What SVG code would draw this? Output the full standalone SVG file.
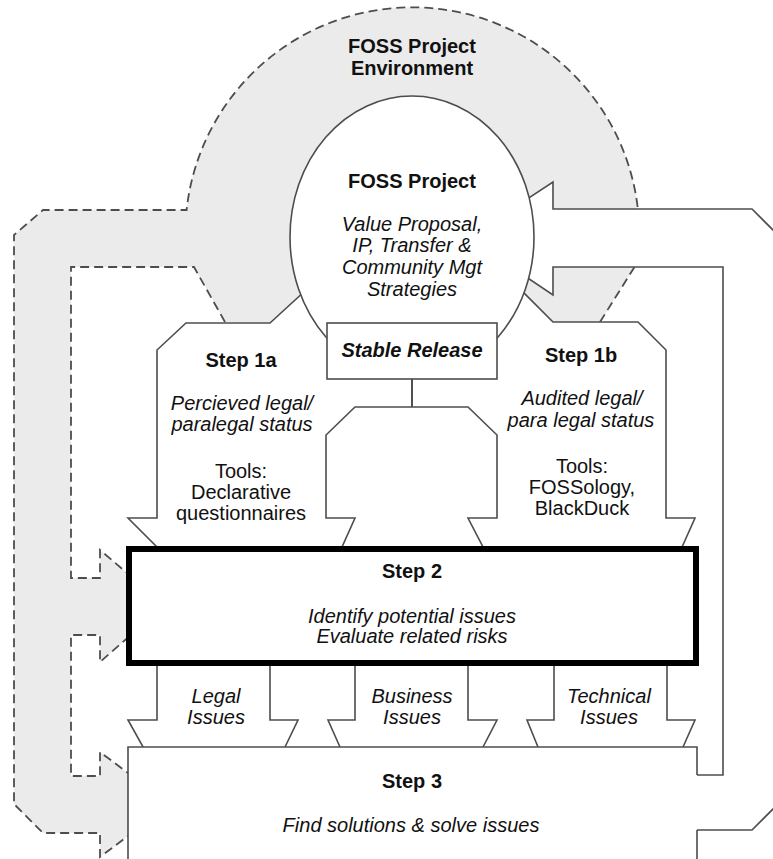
<svg xmlns="http://www.w3.org/2000/svg" width="773" height="859" viewBox="0 0 773 859">
<style>
text{font-family:"Liberation Sans",Arial,Helvetica,sans-serif;fill:#111;text-anchor:middle;font-size:20px}
.b{font-weight:bold}
.i{font-style:italic}
.bi{font-weight:bold;font-style:italic}
.shape{fill:#fff;stroke:#4d4d4d;stroke-width:1.6;stroke-linejoin:miter}
.dash{fill:none;stroke:#4d4d4d;stroke-width:1.8;stroke-dasharray:9 5}
</style>
<rect width="773" height="859" fill="#fff"/>

<g id="environment">
<path d="M186.6,210 A227,227 0 1 1 637.6,262 L600,322 L225,322 L194,267 L71,267 L71,578 L100,578 L100,550 L140,584 L140,627 L100,662 L100,635 L71,635 L71,776 L100,776 L100,752 L140,782 L140,827 L100,857 L100,833 L43,833 L14,804 L14,235 L43,210 Z" fill="#ebebeb"/>
<path class="dash" d="M600,322 L637.6,262 A227,227 0 1 0 186.6,210 L43,210 L14,235 L14,804 L43,833 L100,833 L100,857 L140,827"/>
<path class="dash" d="M225,322 L194,267 L71,267 L71,578 L100,578 L100,550 L140,584 M140,627 L100,662 L100,635 L71,635 L71,776 L100,776 L100,752 L140,782"/>
<text class="b" x="412" y="53">FOSS Project</text>
<text class="b" x="412" y="75">Environment</text>
</g>

<g id="connectors">
<path id="feedback" class="shape" d="M697,830 L752,830 L780,802 L780,237 L752,209 L553,209 L553,182 L468,238 L553,295 L553,267 L723,267 L723,775 L697,775"/>
</g>

<g id="step1a">
<path class="shape" d="M128,518 L157,518 L157,350 L186,323 L270,323 L330,268 L412,268 L412,552 L162,552 Z"/>
</g>
<g id="step1b">
<path class="shape" d="M695,518 L666,518 L666,350 L638,322 L553,322 L495,264 L412,264 L412,552 L679.8,552 Z"/>
</g>

<g id="foss-project">
<ellipse class="shape" cx="412" cy="237" rx="122" ry="141"/>
<text class="b" x="412" y="188">FOSS Project</text>
<text class="i" x="412" y="231">Value Proposal,</text>
<text class="i" x="412" y="252">IP, Transfer &amp;</text>
<text class="i" x="412" y="274">Community Mgt</text>
<text class="i" x="412" y="296">Strategies</text>
</g>

<g id="stable-release">
<rect class="shape" x="327" y="323" width="170" height="56"/>
<text class="bi" x="412" y="357">Stable Release</text>
<line x1="412" y1="379" x2="412" y2="407" stroke="#4d4d4d" stroke-width="1.6"/>
</g>

<g id="release-arrow">
<path class="shape" d="M326,518 L326,435 L355,407 L468,407 L497,435 L497,518 L468,518 L485.6,552 L339.8,552 L355,518 Z"/>
</g>

<g id="step1a-text">
<text class="b" x="241" y="367">Step 1a</text>
<text class="i" x="242" y="410">Percieved legal/</text>
<text class="i" x="242" y="431">paralegal status</text>
<text x="241" y="478">Tools:</text>
<text x="241" y="499">Declarative</text>
<text x="241" y="520">questionnaires</text>
</g>
<g id="step1b-text">
<text class="b" x="581" y="362">Step 1b</text>
<text class="i" x="582" y="405">Audited legal/</text>
<text class="i" x="581" y="427">para legal status</text>
<text x="582" y="473">Tools:</text>
<text x="582" y="494">FOSSology,</text>
<text x="582" y="515">BlackDuck</text>
</g>

<g id="legal-issues">
<path class="shape" d="M157,660 L157,720 L128,720 L145.8,752 L282.6,752 L298,720 L270,720 L270,660 Z"/>
<text class="i" x="216" y="703">Legal</text>
<text class="i" x="216" y="724">Issues</text>
</g>
<g id="business-issues">
<path class="shape" d="M355,660 L355,720 L328,720 L342.2,752 L480.4,752 L497,720 L468,720 L468,660 Z"/>
<text class="i" x="412" y="703">Business</text>
<text class="i" x="412" y="724">Issues</text>
</g>
<g id="technical-issues">
<path class="shape" d="M554,660 L554,720 L527,720 L540,752 L680.8,752 L695,720 L667,720 L667,660 Z"/>
<text class="i" x="609" y="703">Technical</text>
<text class="i" x="609" y="724">Issues</text>
</g>

<g id="step2">
<rect x="129" y="549" width="567" height="114" fill="#fff" stroke="#000" stroke-width="6"/>
<text class="b" x="412" y="578">Step 2</text>
<text class="i" x="412" y="623">Identify potential issues</text>
<text class="i" x="412" y="643">Evaluate related risks</text>
</g>

<g id="step3">
<rect x="128" y="747" width="569" height="130" fill="#fff"/>
<path d="M128,870 L128,747 L697,747 L697,775 M697,830 L697,870" fill="none" stroke="#4d4d4d" stroke-width="1.6"/>
<text class="b" x="412" y="788">Step 3</text>
<text class="i" x="411" y="832">Find solutions &amp; solve issues</text>
</g>
</svg>
